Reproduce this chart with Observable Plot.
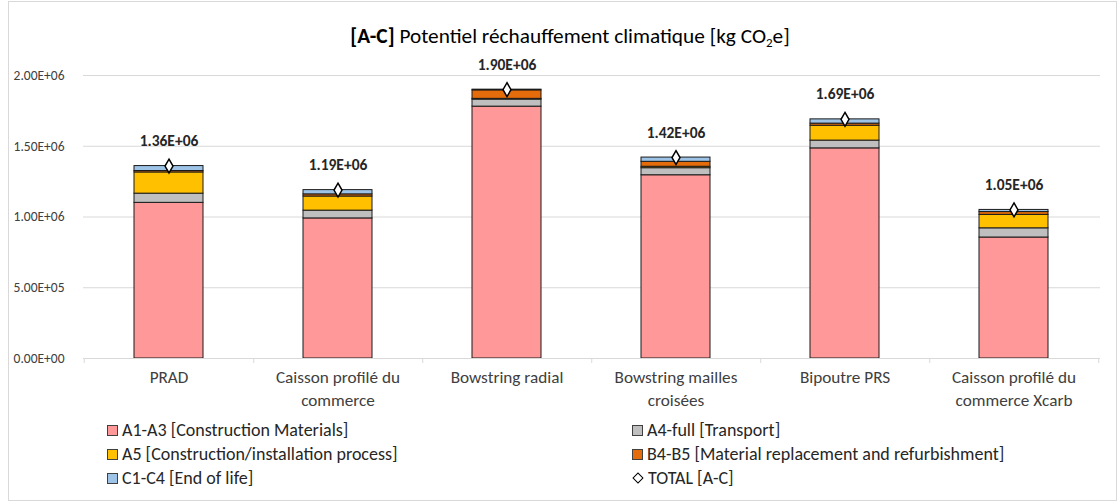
<!DOCTYPE html>
<html>
<head>
<meta charset="utf-8">
<script src="https://cdn.jsdelivr.net/npm/d3@7"></script>
<script src="https://cdn.jsdelivr.net/npm/@observablehq/plot@0.6"></script>
<style>
  html, body { margin: 0; padding: 0; background: #fff; }
  body { width: 1120px; height: 503px; overflow: hidden; font-family: Carlito, Calibri, "Liberation Sans", sans-serif; color: #000; }
  #frame { position: absolute; left: 8px; top: 1px; width: 1109px; height: 500px; border: 1px solid #D9D9D9; box-sizing: border-box; }
  #title { position: absolute; top: 23px; left: 0; width: 1140px; text-align: center; font-size: 21.3px; color: #000; }
  #title sub { font-size: 13px; vertical-align: -4px; line-height: 0; }
  #chart { position: absolute; top: 55px; left: 0; }
  #legend { position: absolute; top: 420px; left: 107px; display: grid; grid-template-columns: 525px 420px; row-gap: 4px; font-size: 18px; color: #262626; }
  .item { display: flex; align-items: center; height: 20px; }
  .sw { width: 11px; height: 11px; border: 1px solid #404040; box-sizing: border-box; margin-right: 4px; }
  .dia { width: 8px; height: 8px; border: 1.5px solid #000; background: #fff; transform: rotate(45deg); box-sizing: border-box; margin: 0 6px 0 2px; }
</style>
</head>
<body>
<div id="frame"></div>
<div id="title"><b>[A-C]</b> Potentiel réchauffement climatique [kg CO<sub>2</sub>e]</div>
<div id="chart"></div>
<div id="legend"></div>
<script>
const categories = ["PRAD", "Caisson profilé du\ncommerce", "Bowstring radial", "Bowstring mailles\ncroisées", "Bipoutre PRS", "Caisson profilé du\ncommerce Xcarb"];
const seriesNames = ["A1-A3 [Construction Materials]", "A4-full [Transport]", "A5 [Construction/installation process]", "B4-B5 [Material replacement and refurbishment]", "C1-C4 [End of life]"];
const seriesColors = ["#FF9999", "#BFBFBF", "#FFC000", "#E46C0A", "#9DC3E6"];
const a1a3 = [1100000, 990000, 1780000, 1295000, 1485000, 855000];
const a4 = [65000, 55000, 50000, 50000, 55000, 65000];
const a5 = [150000, 100000, 5000, 10000, 105000, 95000];
const b4b5 = [10000, 15000, 60000, 35000, 15000, 20000];
const c1c4 = [35000, 30000, 5000, 30000, 30000, 15000];
const totals = [1360000, 1190000, 1900000, 1420000, 1690000, 1050000];
const yTicks = [0, 500000, 1000000, 1500000, 2000000];

const seriesValues = [a1a3, a4, a5, b4b5, c1c4];
const rows = [];
categories.forEach((c, i) => {
  seriesNames.forEach((s, k) => rows.push({cat: c, series: s, value: seriesValues[k][i]}));
});
const totalRows = categories.map((c, i) => ({cat: c, total: totals[i]}));

function sci(v) {
  const [m, e] = v.toExponential(2).split("e");
  const sign = e[0] === "-" ? "-" : "+";
  const digits = e.replace(/[+-]/, "").padStart(2, "0");
  return `${m}E${sign}${digits}`;
}

const font = 'Carlito, Calibri, "Liberation Sans", sans-serif';

const chart = Plot.plot({
  width: 1120,
  height: 360,
  marginLeft: 83,
  marginRight: 20,
  marginTop: 20,
  marginBottom: 57,
  style: {fontFamily: font, fontSize: "14px", color: "#404040", background: "transparent", overflow: "visible"},
  x: {domain: categories, paddingInner: 0.59, paddingOuter: 0.295, label: null},
  y: {domain: [0, 2000000], label: null},
  color: {domain: seriesNames, range: seriesColors},
  marks: [
    Plot.ruleY(yTicks, {stroke: "#D9D9D9", strokeWidth: 1}),
    Plot.axisY({ticks: yTicks, tickSize: 0, tickPadding: 19, tickFormat: sci, fontSize: 13.5, color: "#404040", label: null}),
    Plot.axisX({tickSize: 0, tickPadding: 9, fontSize: 17.2, lineHeight: 1.3, color: "#404040", label: null}),
    Plot.ruleX(categories, {x: d => d, y1: 0, y2: 0, insetBottom: -5, dx: 84.75, stroke: "#D9D9D9"}),
    Plot.ruleX(categories.slice(0, 1), {x: d => d, y1: 0, y2: 0, insetBottom: -5, dx: -84.75, stroke: "#D9D9D9"}),
    Plot.barY(rows, {x: "cat", y: "value", fill: "series", stroke: "#1a1a1a", strokeWidth: 1, order: null}),
    Plot.ruleY([0], {stroke: "#D9D9D9"}),
    Plot.dot(totalRows, {x: "cat", y: "total", symbol: "diamond", r: 4.2, fill: "#fff", stroke: "#000", strokeWidth: 1.5}),
    Plot.text(totalRows, {x: "cat", y: "total", text: d => sci(d.total), dy: -25, fontWeight: "bold", fontSize: 15.5, fill: "#262626"})
  ]
});
document.getElementById("chart").appendChild(chart);

const legendOrder = [0, 1, 2, 3, 4, -1];
const legend = document.getElementById("legend");
legendOrder.forEach(k => {
  const item = document.createElement("div");
  item.className = "item";
  const sw = document.createElement("span");
  if (k >= 0) {
    sw.className = "sw";
    sw.style.background = seriesColors[k];
  } else {
    sw.className = "dia";
  }
  const t = document.createElement("span");
  t.textContent = k >= 0 ? seriesNames[k] : "TOTAL [A-C]";
  item.appendChild(sw);
  item.appendChild(t);
  legend.appendChild(item);
});
</script>
</body>
</html>
